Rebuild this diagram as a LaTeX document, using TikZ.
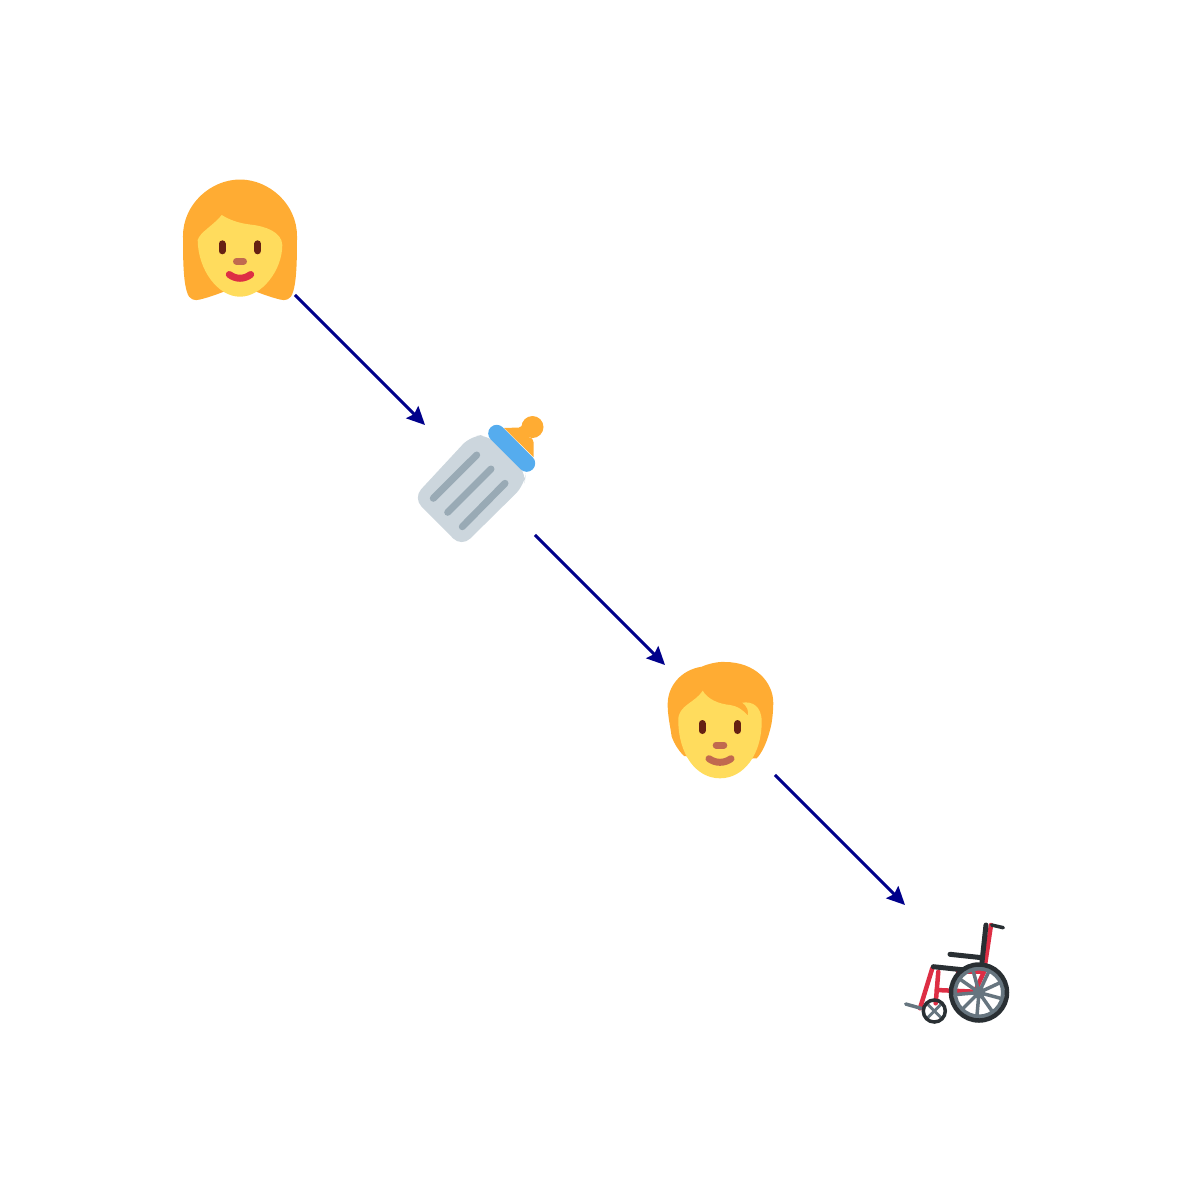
\documentclass[tikz,border=0pt]{standalone}
\usepackage{xcolor}
\definecolor{emHair}{HTML}{FFAC33}
\definecolor{emSkin}{HTML}{FFDC5D}
\definecolor{emEye}{HTML}{662113}
\definecolor{emNose}{HTML}{C1694F}
\definecolor{emRed}{HTML}{DD2E44}
\definecolor{emGlass}{HTML}{CCD6DD}
\definecolor{emMark}{HTML}{99AAB5}
\definecolor{emCap}{HTML}{55ACEE}
\definecolor{emDark}{HTML}{292F33}
\definecolor{emGrey}{HTML}{66757F}
\definecolor{arrowBlue}{RGB}{0,0,139}
\usetikzlibrary{positioning,arrows.meta}
\begin{document}
\begin{tikzpicture}[node distance=13mm and 13mm,
  o/.style={minimum size=11mm,inner sep=0pt,outer sep=0pt},
  a/.style={-{Stealth[length=1.8mm,width=1.7mm,inset=0.25mm]},arrowBlue,line width=0.3mm},
  em/.style={x=0.1mm,y=-0.1mm},
  dot/.style={line cap=round,line width=0.7mm}]
  \useasboundingbox (0,0) rectangle (12,-12);
  \node[o] (mum) at (2.4,-2.4) {};
  \node[o,below right=of mum] (bottle) {};
  \node[o,below right=of bottle] (child) {};
  \node[o,below right=of child] (chair) {};
  \draw[a] (mum) -- (bottle);
  \draw[a] (bottle) -- (child);
  \draw[a] (child) -- (chair);
  % woman
  \begin{scope}[em,shift={(mum.center)}]
    \fill[emHair] (0,-60.5) .. controls (-29,-60.5) and (-57,-36) .. (-57,-4)
      .. controls (-57,15) and (-57,40) .. (-53,52) .. controls (-51,60) and (-45,61) .. (-40,59.5)
      .. controls (-30,57) and (-22,54) .. (-12,50) -- (12,50)
      .. controls (22,54) and (30,57) .. (40,59.5) .. controls (45,61) and (51,60) .. (53,52)
      .. controls (57,40) and (57,15) .. (57,-4) .. controls (57,-36) and (29,-60.5) .. (0,-60.5) -- cycle;
    \fill[emSkin] (-18.3,-25) .. controls (-26,-15) and (-40,-8) .. (-42.3,0)
      .. controls (-42,30) and (-22,56.7) .. (0,56.7) .. controls (22,56.7) and (42.3,30) .. (42.3,5)
      .. controls (42,-8) and (25,-14) .. (10,-15.5) .. controls (-2,-17) and (-10,-20) .. (-18.3,-25) -- cycle;
    \draw[dot,emEye] (-18,3.8) -- (-18,10.8);
    \draw[dot,emEye] (17.7,3.8) -- (17.7,10.8);
    \draw[dot,emNose] (-3.5,21.3) -- (3.5,21.3);
    \draw[dot,emRed] (-10.7,34.5) .. controls (-4,39.5) and (4,39.5) .. (10.7,34.5);
  \end{scope}
  % bottle
  \begin{scope}[em,shift={(bottle.center)}]
    \fill[emGlass,rounded corners=1.2mm] (-67,18) -- (-18.3,67) -- (44.5,5) -- (46,-8.3) -- (8.3,-45) -- (-9,-44.5) -- cycle;
    \draw[dot,emMark] (-3.3,-25) -- (-46.7,18.3);
    \draw[dot,emMark] (11,-11) -- (-32.3,32.3);
    \draw[dot,emMark] (25,3.3) -- (-17.7,46.7);
    \fill[emHair] (24,-52) -- (39,-52.5) .. controls (41,-52.5) and (42,-54) .. (43,-58)
      -- (52,-53) -- (48,-43) .. controls (52,-42) and (53.5,-41) .. (53.5,-38) -- (53.5,-23) -- cycle;
    \fill[emHair] (52.5,-53) circle (11);
    \draw[emCap,line cap=round,line width=1.7mm] (16.7,-46.7) -- (46.7,-16.7);
  \end{scope}
  % child
  \begin{scope}[em,shift={(child.center)}]
    \fill[emHair] (-18.3,-53.3) .. controls (-10,-57) and (0,-58.5) .. (5,-58)
      .. controls (35,-58) and (53.5,-38) .. (53.3,-16.7) .. controls (53,-5) and (52,3) .. (50,10)
      .. controls (47,22) and (42,33) .. (36.7,38.3) -- (0,40) -- (-36,36)
      .. controls (-42,30) and (-46,23) .. (-48.3,16.7) .. controls (-50,5) and (-52.5,-5) .. (-52.3,-16.7)
      .. controls (-52,-33) and (-40,-50) .. (-18.3,-53.3) -- cycle;
    \fill[emSkin] (-17.3,-29.3) .. controls (-12,-20) and (0,-16) .. (10,-15)
      .. controls (17,-14) and (22,-11) .. (27.7,-4.5) .. controls (29,-9) and (27,-14) .. (22.3,-17.3)
      .. controls (32,-19) and (41.7,-14) .. (41.7,1.7) .. controls (41.7,34) and (24,58.3) .. (0,58.3)
      .. controls (-24,58.3) and (-41.7,34) .. (-41.7,0) .. controls (-41.7,-15) and (-25,-17) .. (-17.3,-29.3) -- cycle;
    \draw[dot,emEye] (-18,3.5) -- (-18,10.5);
    \draw[dot,emEye] (17.7,3.5) -- (17.7,10.5);
    \draw[dot,emNose] (-3.8,25) -- (3.8,25);
    \draw[dot,emNose] (-11,38.7) .. controls (-4,43.5) and (4,43.5) .. (11,38.7);
  \end{scope}
  % wheelchair
  \begin{scope}[em,shift={(chair.center)},line cap=round]
    \draw[emRed,line width=0.45mm] (31,-35) -- (24,11.7) -- (15,31.7);
    \draw[emRed,line width=0.45mm] (-27.7,8.3) -- (-40,48.3);
    \draw[emRed,line width=0.45mm] (-21.7,11.7) -- (-24.3,43.3);
    \draw[emRed,line width=0.45mm] (-23.3,30) -- (15,31.7);
    \draw[emRed,line width=0.45mm] (-2,11.7) -- (24,11.7);
    \draw[emDark,line width=0.35mm] (31.7,-35) -- (43.3,-32.3);
    \draw[emDark,line width=0.5mm] (26,-35) -- (22,2);
    \draw[emDark,line width=0.5mm] (-10,-5.7) -- (22,-2.3);
    \draw[emDark,line width=0.5mm] (-26.7,6.7) -- (5,10);
    \draw[emGrey,line width=0.35mm] (-54.3,44) -- (-39,48.3);
    % big wheel
    \foreach \ang in {15,55,95,135,175,215,255,295,335}
      \draw[emGrey,line width=0.35mm] (19,32.5) -- ++(\ang:23);
    \fill[emGrey] (19,32.5) circle (6);
    \draw[emGrey,line width=0.4mm] (19,32.5) circle (24);
    \draw[emDark,line width=0.45mm] (19,32.5) circle (28);
    % small wheel
    \foreach \ang in {45,135,225,315}
      \draw[emGrey,line width=0.28mm] (-25.7,51) -- ++(\ang:10);
    \draw[emDark,line width=0.35mm] (-25.7,51) circle (11);
  \end{scope}
\end{tikzpicture}
\end{document}
